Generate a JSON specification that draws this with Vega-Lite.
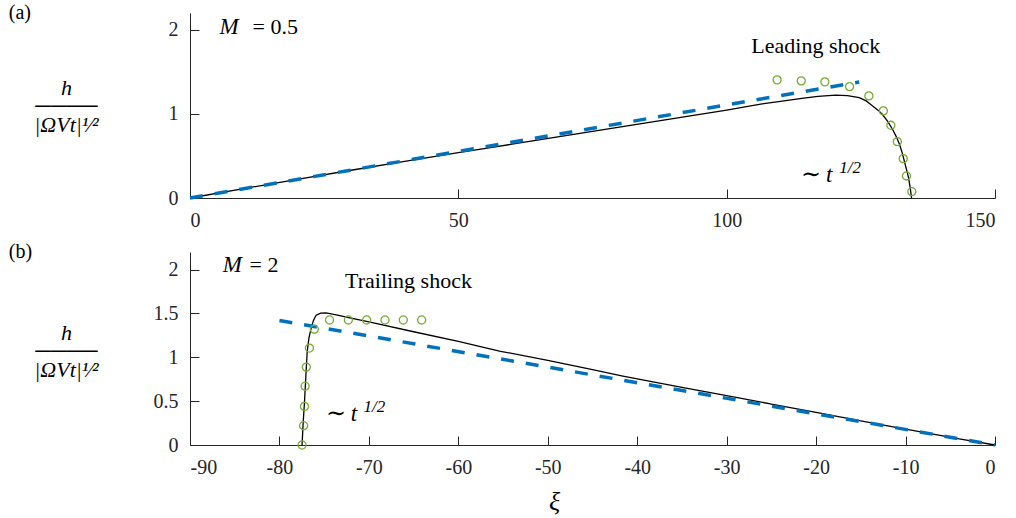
{
  "$schema": "https://vega.github.io/schema/vega-lite/v6.json",
  "padding": {"left": 8, "top": 3, "right": 5, "bottom": 5},
  "background": "white",
  "spacing": 12,
  "config": {
    "view": {"stroke": null},
    "axis": {
      "grid": false,
      "domainColor": "#262626",
      "domainWidth": 1,
      "tickColor": "#262626",
      "tickSize": -9,
      "tickWidth": 1,
      "labelColor": "#262626",
      "labelFont": "Liberation Serif",
      "labelFontSize": 20,
      "titleFont": "Liberation Serif",
      "titleFontWeight": "normal",
      "titleColor": "#000000"
    },
    "title": {"font": "Liberation Serif", "fontSize": 20, "fontWeight": "normal", "color": "#000000"}
  },
  "datasets": {
    "a_num": [
      {"xi": 0, "h": 0}, {"xi": 10, "h": 0.112}, {"xi": 20, "h": 0.222}, {"xi": 30, "h": 0.33},
      {"xi": 40, "h": 0.435}, {"xi": 50, "h": 0.54}, {"xi": 56, "h": 0.6}, {"xi": 60, "h": 0.64},
      {"xi": 70, "h": 0.742}, {"xi": 80, "h": 0.843}, {"xi": 90, "h": 0.944}, {"xi": 100, "h": 1.045},
      {"xi": 106.6, "h": 1.12}, {"xi": 110, "h": 1.15}, {"xi": 114, "h": 1.185}, {"xi": 117, "h": 1.208},
      {"xi": 120.3, "h": 1.223}, {"xi": 122.5, "h": 1.218}, {"xi": 124.7, "h": 1.194}, {"xi": 126, "h": 1.155},
      {"xi": 127.2, "h": 1.095}, {"xi": 128.2, "h": 1.045}, {"xi": 129, "h": 0.996}, {"xi": 130, "h": 0.91},
      {"xi": 130.9, "h": 0.818}, {"xi": 131.6, "h": 0.73}, {"xi": 132.2, "h": 0.64}, {"xi": 132.7, "h": 0.54},
      {"xi": 133.1, "h": 0.44}, {"xi": 133.5, "h": 0.34}, {"xi": 133.9, "h": 0.24}, {"xi": 134.2, "h": 0.12},
      {"xi": 134.45, "h": 0}
    ],
    "a_lin": [{"xi": 0, "h": 0}, {"xi": 124.7, "h": 1.38}],
    "a_pts": [
      {"xi": 109.4, "h": 1.405}, {"xi": 113.9, "h": 1.393}, {"xi": 118.3, "h": 1.381}, {"xi": 122.9, "h": 1.325},
      {"xi": 126.5, "h": 1.214}, {"xi": 129.2, "h": 1.036}, {"xi": 130.6, "h": 0.865}, {"xi": 131.8, "h": 0.67},
      {"xi": 132.9, "h": 0.468}, {"xi": 133.5, "h": 0.262}, {"xi": 134.5, "h": 0.075}
    ],
    "a_roman": [
      {"xi": 11.65, "h": 1.952, "label": "= 0.5"},
      {"xi": 104.6, "h": 1.726, "label": "Leading shock"}
    ],
    "a_italic": [
      {"xi": 5.5, "h": 1.952, "label": "M"},
      {"xi": 118.5, "h": 0.186, "label": "t"}
    ],
    "a_tilde": [{"xi": 113.86, "h": 0.186, "label": "∼"}],
    "a_sup": [{"xi": 121.0, "h": 0.3, "label": "1/2"}],
    "b_num": [
      {"xi": -77.47, "h": 0}, {"xi": -77.35, "h": 0.25}, {"xi": -77.2, "h": 0.49}, {"xi": -77.05, "h": 0.78},
      {"xi": -76.9, "h": 1.06}, {"xi": -76.7, "h": 1.22}, {"xi": -76.47, "h": 1.326}, {"xi": -76.2, "h": 1.42},
      {"xi": -75.9, "h": 1.48}, {"xi": -75.4, "h": 1.503}, {"xi": -74.8, "h": 1.505}, {"xi": -73.5, "h": 1.48},
      {"xi": -72, "h": 1.447}, {"xi": -69.6, "h": 1.394}, {"xi": -65, "h": 1.291}, {"xi": -60, "h": 1.18},
      {"xi": -55.4, "h": 1.071}, {"xi": -50, "h": 0.964}, {"xi": -45, "h": 0.858}, {"xi": -41.6, "h": 0.785},
      {"xi": -35, "h": 0.658}, {"xi": -30, "h": 0.563}, {"xi": -25, "h": 0.467}, {"xi": -20, "h": 0.371},
      {"xi": -15, "h": 0.275}, {"xi": -12.6, "h": 0.229}, {"xi": -8, "h": 0.143}, {"xi": -4, "h": 0.07},
      {"xi": 0, "h": 0}
    ],
    "b_lin": [{"xi": -80, "h": 1.42}, {"xi": 0, "h": 0}],
    "b_pts": [
      {"xi": -77.47, "h": 0}, {"xi": -77.3, "h": 0.22}, {"xi": -77.2, "h": 0.44}, {"xi": -77.13, "h": 0.67},
      {"xi": -77.0, "h": 0.888}, {"xi": -76.65, "h": 1.105}, {"xi": -76.1, "h": 1.32}, {"xi": -74.4, "h": 1.425},
      {"xi": -72.3, "h": 1.425}, {"xi": -70.25, "h": 1.425}, {"xi": -68.2, "h": 1.425}, {"xi": -66.15, "h": 1.425},
      {"xi": -64.1, "h": 1.425}
    ],
    "b_roman": [
      {"xi": -83.35, "h": 1.977, "label": "= 2"},
      {"xi": -72.67, "h": 1.794, "label": "Trailing shock"}
    ],
    "b_italic": [
      {"xi": -86.33, "h": 1.977, "label": "M"},
      {"xi": -72.03, "h": 0.279, "label": "t"}
    ],
    "b_tilde": [{"xi": -74.79, "h": 0.279, "label": "∼"}],
    "b_sup": [{"xi": -70.6, "h": 0.374, "label": "1/2"}]
  },
  "vconcat": [
    {
      "width": 805,
      "height": 185,
      "title": {"text": "(a)", "anchor": "start", "frame": "bounds", "offset": -10, "dx": -25},
      "encoding": {
        "x": {"field": "xi", "type": "quantitative", "scale": {"domain": [0, 150], "nice": false, "zero": false},
              "axis": {"values": [0, 50, 100, 150], "title": null, "labelPadding": 21, "labelExpr": "toString(datum.value)"}},
        "y": {"field": "h", "type": "quantitative", "scale": {"domain": [0, 2.2], "nice": false},
              "axis": {"values": [0, 1, 2], "labelPadding": 21, "labelExpr": "toString(datum.value)",
                       "title": ["h", "────", "|ΩVt|¹⁄²"], "titleAngle": 0, "titleAlign": "center", "titleBaseline": "middle",
                       "titleX": -124, "titleY": 74, "titleFontSize": 22, "titleFontStyle": "italic", "titleLineHeight": 18.5}}
      },
      "layer": [
        {"data": {"name": "a_num"}, "mark": {"type": "line", "color": "#000000", "strokeWidth": 1.3}},
        {"data": {"name": "a_lin"}, "mark": {"type": "line", "color": "#0072BD", "strokeWidth": 3.5, "strokeDash": [13, 12]}},
        {"data": {"name": "a_pts"}, "mark": {"type": "point", "shape": "circle", "filled": false, "color": "#77AC30", "size": 65, "strokeWidth": 1.3, "opacity": 1}},
        {"data": {"name": "a_roman"}, "mark": {"type": "text", "align": "left", "baseline": "alphabetic", "font": "Liberation Serif", "fontSize": 22, "color": "#000000"}, "encoding": {"text": {"field": "label"}}},
        {"data": {"name": "a_italic"}, "mark": {"type": "text", "align": "left", "baseline": "alphabetic", "font": "Liberation Serif", "fontStyle": "italic", "fontSize": 23, "color": "#000000"}, "encoding": {"text": {"field": "label"}}},
        {"data": {"name": "a_tilde"}, "mark": {"type": "text", "align": "left", "baseline": "alphabetic", "font": "DejaVu Serif", "fontSize": 24, "color": "#000000"}, "encoding": {"text": {"field": "label"}}},
        {"data": {"name": "a_sup"}, "mark": {"type": "text", "align": "left", "baseline": "alphabetic", "font": "Liberation Serif", "fontStyle": "italic", "fontSize": 17, "color": "#000000"}, "encoding": {"text": {"field": "label"}}}
      ]
    },
    {
      "width": 805,
      "height": 193,
      "title": {"text": "(b)", "anchor": "start", "frame": "bounds", "offset": -10, "dx": -25},
      "encoding": {
        "x": {"field": "xi", "type": "quantitative", "scale": {"domain": [-90, 0], "nice": false, "zero": false},
              "axis": {"values": [-90, -80, -70, -60, -50, -40, -30, -20, -10, 0], "labelPadding": 21, "labelExpr": "toString(datum.value)",
                       "title": "ξ", "titleFontSize": 26, "titleFontStyle": "italic", "titlePadding": 11, "titleX": 364}},
        "y": {"field": "h", "type": "quantitative", "scale": {"domain": [0, 2.2], "nice": false},
              "axis": {"values": [0, 0.5, 1, 1.5, 2], "labelPadding": 21, "labelExpr": "toString(datum.value)",
                       "title": ["h", "────", "|ΩVt|¹⁄²"], "titleAngle": 0, "titleAlign": "center", "titleBaseline": "middle",
                       "titleX": -124, "titleY": 80, "titleFontSize": 22, "titleFontStyle": "italic", "titleLineHeight": 18.5}}
      },
      "layer": [
        {"data": {"name": "b_num"}, "mark": {"type": "line", "color": "#000000", "strokeWidth": 1.3}},
        {"data": {"name": "b_lin"}, "mark": {"type": "line", "color": "#0072BD", "strokeWidth": 3.5, "strokeDash": [13, 12]}},
        {"data": {"name": "b_pts"}, "mark": {"type": "point", "shape": "circle", "filled": false, "color": "#77AC30", "size": 65, "strokeWidth": 1.3, "opacity": 1}},
        {"data": {"name": "b_roman"}, "mark": {"type": "text", "align": "left", "baseline": "alphabetic", "font": "Liberation Serif", "fontSize": 22, "color": "#000000"}, "encoding": {"text": {"field": "label"}}},
        {"data": {"name": "b_italic"}, "mark": {"type": "text", "align": "left", "baseline": "alphabetic", "font": "Liberation Serif", "fontStyle": "italic", "fontSize": 23, "color": "#000000"}, "encoding": {"text": {"field": "label"}}},
        {"data": {"name": "b_tilde"}, "mark": {"type": "text", "align": "left", "baseline": "alphabetic", "font": "DejaVu Serif", "fontSize": 24, "color": "#000000"}, "encoding": {"text": {"field": "label"}}},
        {"data": {"name": "b_sup"}, "mark": {"type": "text", "align": "left", "baseline": "alphabetic", "font": "Liberation Serif", "fontStyle": "italic", "fontSize": 17, "color": "#000000"}, "encoding": {"text": {"field": "label"}}}
      ]
    }
  ]
}
